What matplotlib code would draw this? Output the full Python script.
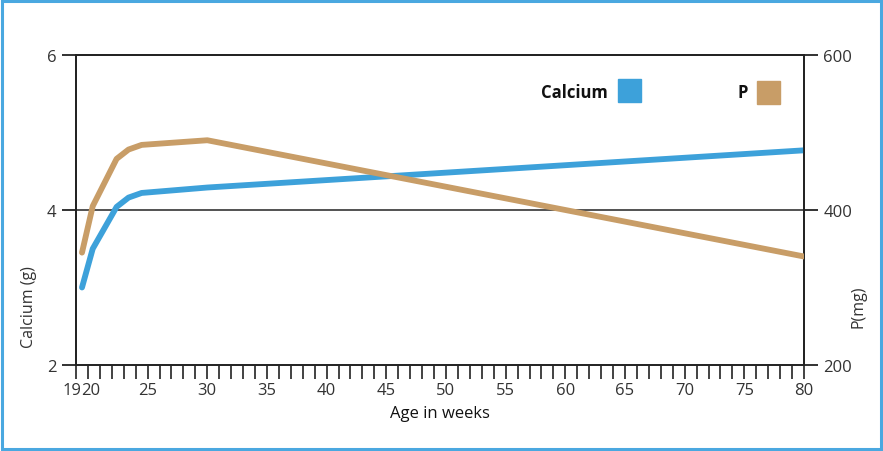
import numpy as np
import matplotlib.pyplot as plt
import matplotlib.transforms as mtransforms
from matplotlib.patches import Rectangle

plt.rcParams['font.family'] = ['Open Sans', 'DejaVu Sans']

# Age in weeks and the two series
weeks = [19.5, 20.4, 22.4, 23.4, 24.5, 30, 80]
calcium_g = [3.0, 3.5, 4.04, 4.16, 4.22, 4.29, 4.77]
p_mg = [345, 405, 466, 478, 484, 490, 340]

xtick_labels = [19, 20, 25, 30, 35, 40, 45, 50, 55, 60, 65, 70, 75, 80]

blue = '#3DA1DA'
tan = '#C89D67'
axis_col = '#222222'
text_col = '#333333'

fig = plt.figure(figsize=(8.83, 4.52), dpi=100)
ax = fig.add_axes([0.0861, 0.1903, 0.8244, 0.6858])
ax2 = ax.twinx()

ax.plot(weeks, calcium_g, color=blue, lw=4.2, solid_capstyle='round',
        solid_joinstyle='round', zorder=3)
ax2.plot(weeks, p_mg, color=tan, lw=4.2, solid_capstyle='round',
         solid_joinstyle='round', zorder=3)

ax.set_xlim(19, 80)
ax.set_ylim(2, 6)
ax2.set_ylim(200, 600)

ax.set_xticks(xtick_labels)
ax.set_xticklabels([str(v) for v in xtick_labels])
ax.set_xticks(np.arange(19, 81), minor=True)
ax.set_yticks([2, 4, 6])
ax2.set_yticks([200, 400, 600])

ax.axhline(4, color='#444444', lw=1.3, zorder=1)

for a in (ax, ax2):
    for s in a.spines.values():
        s.set_color(axis_col)
        s.set_linewidth(1.3)
ax.spines['bottom'].set_color('#444444')

ax.tick_params(axis='x', which='both', direction='out', length=10, width=1.2,
               color=axis_col, labelsize=12, labelcolor=text_col, pad=2)
ax.tick_params(axis='y', direction='out', length=10, width=1.3,
               color=axis_col, labelsize=12, labelcolor=text_col, pad=4)
ax2.tick_params(axis='y', direction='out', length=10, width=1.3,
                color=axis_col, labelsize=12, labelcolor=text_col, pad=4)

# "19" and "20" sit side by side as "1920"
lbls = ax.get_xticklabels()
lbls[0].set_ha('right')
lbls[0].set_transform(lbls[0].get_transform() +
                      mtransforms.ScaledTranslation(4 / 72, 0, fig.dpi_scale_trans))
lbls[1].set_transform(lbls[1].get_transform() +
                      mtransforms.ScaledTranslation(2 / 72, 0, fig.dpi_scale_trans))

ax.set_xlabel('Age in weeks', fontsize=12, color='#111111', labelpad=5)
ax.set_ylabel('Calcium (g)', fontsize=11.5, color=text_col)
ax.yaxis.set_label_coords(-0.053, 0.19)
ax2.set_ylabel('P(mg)', fontsize=11.5, color=text_col, rotation=90)
ax2.yaxis.set_label_coords(1.064, 0.19)

# legend drawn as text plus coloured squares
ax.text(0.731, 0.881, 'Calcium', transform=ax.transAxes, fontsize=12,
        fontweight='bold', color='#111111', ha='right', va='center')
ax.add_patch(Rectangle((0.7445, 0.847), 0.031, 0.074, transform=ax.transAxes,
                       color=blue, clip_on=False))
ax.text(0.9235, 0.881, 'P', transform=ax.transAxes, fontsize=12,
        fontweight='bold', color='#111111', ha='right', va='center')
ax.add_patch(Rectangle((0.9355, 0.843), 0.031, 0.074, transform=ax.transAxes,
                       color=tan, clip_on=False))

# light blue frame around the figure
fig.patches.append(Rectangle((0.002, 0.004), 0.996, 0.992, transform=fig.transFigure,
                             fill=False, edgecolor='#4AA8E0', lw=2.2))

fig.savefig('out.png', dpi=100)
